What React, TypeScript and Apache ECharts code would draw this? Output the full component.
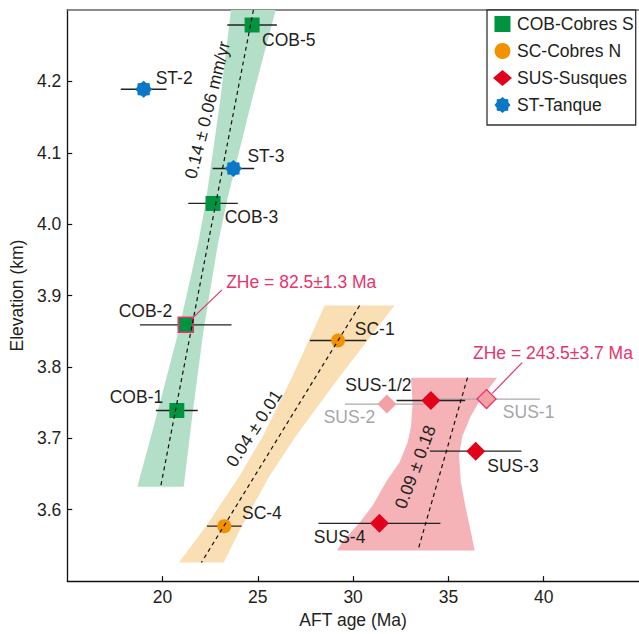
import React, { useEffect, useRef } from 'react';
import * as echarts from 'echarts';

// ---------- data ----------
const cobNames = ['COB-1', 'COB-2', 'COB-3', 'COB-5'];
const cobAge = [20.75, 21.22, 22.65, 24.7];
const cobAgeErr = [1.1, 2.4, 1.3, 1.3];
const cobElev = [3.739, 3.859, 4.029, 4.279];

const scNames = ['SC-1', 'SC-4'];
const scAge = [29.21, 23.24];
const scAgeErr = [1.48, 0.91];
const scElev = [3.837, 3.577];

const susNames = ['SUS-1/2', 'SUS-3', 'SUS-4'];
const susAge = [34.08, 36.43, 31.38];
const susAgeErr = [1.8, 2.4, 3.2];
const susElev = [3.753, 3.682, 3.581];

const susOldNames = ['SUS-2', 'SUS-1'];
const susOldAge = [31.77, 37.0];
const susOldAgeErr = [2.2, 2.8];
const susOldElev = [3.748, 3.755];

const stNames = ['ST-2', 'ST-3'];
const stAge = [19.01, 23.72];
const stAgeErr = [1.2, 1.09];
const stElev = [4.189, 4.078];

// confidence bands (AFT age, elevation) edges
const greenBandLeft = [[23.59, 4.3], [23.03, 4.174], [22.29, 4.035], [21.87, 3.973], [20.85, 3.851], [19.68, 3.731], [18.68, 3.632]];
const greenBandRight = [[25.94, 4.3], [24.69, 4.174], [23.4, 4.035], [22.91, 3.973], [22.15, 3.851], [21.56, 3.731], [21.11, 3.632]];
const orangeBandLeft = [[28.51, 3.886], [26.8, 3.786], [25.26, 3.703], [24.06, 3.648], [22.28, 3.577], [20.86, 3.526]];
const orangeBandRight = [[32.17, 3.886], [29.28, 3.786], [26.99, 3.703], [25.63, 3.648], [24.16, 3.577], [23.21, 3.526]];
const redBandLeft = [[33.04, 3.785], [33.12, 3.749], [33.04, 3.717], [32.86, 3.694], [32.43, 3.666], [31.73, 3.639], [31.03, 3.606], [30.25, 3.579], [29.47, 3.556], [29.16, 3.543]];
const redBandRight = [[37.56, 3.785], [36.78, 3.759], [36.17, 3.731], [35.73, 3.703], [35.56, 3.676], [35.65, 3.639], [35.91, 3.602], [36.17, 3.57], [36.38, 3.543]];

// regression lines
const greenFit = [[24.77, 4.3], [19.9, 3.632]];
const orangeFit = [[30.34, 3.886], [22.04, 3.526]];
const redFit = [[36.0, 3.785], [33.4, 3.543]];

// rate annotations
const rateTexts = ['0.14 ± 0.06 mm/yr', '0.04 ± 0.01', '0.09 ± 0.18'];
const ratePos = [[22.35, 4.16], [24.8, 3.714], [33.26, 3.66]];
const rateAngle = [76, 57, 69.5];

// ZHe annotations
const zheTexts = ['ZHe = 82.5±1.3 Ma', 'ZHe = 243.5±3.7 Ma'];
const zhePos = [[23.34, 3.919], [36.29, 3.82]];
const zheLeader1 = [[21.6, 3.869], [23.12, 3.908]];
const zheLeader2 = [[37.3, 3.763], [38.87, 3.806]];

const xTicksMin = 15, xTicksMax = 45, xStep = 5;
const yTicksMin = 3.5, yTicksMax = 4.3, yStep = 0.1;

// ---------- styles ----------
const FONT = "'Liberation Sans', Arial, Helvetica, sans-serif";
const FS = 17.5;
const TXT = '#231f20';
const PINK = '#e8336b';
const STAR = 'path://M100 50 L86.96 65.31 L85.36 85.36 L65.31 86.96 L50 100 L34.69 86.96 L14.64 85.36 L13.04 65.31 L0 50 L13.04 34.69 L14.64 14.64 L34.69 13.04 L50 0 L65.31 13.04 L85.36 14.64 L86.96 34.69 Z';
const SQUARE = 'path://M0 0H10V10H0Z';

// label placement: [align, dx, dy]
const labelPlace: Record<string, [string, number, number]> = {
  'COB-5': ['left', 10, 15],
  'COB-3': ['left', 11.6, 13.4],
  'COB-2': ['right', -13.6, -14],
  'COB-1': ['right', -13.6, -13.3],
  'ST-2': ['left', 12, -11],
  'ST-3': ['left', 14, -12.6],
  'SC-1': ['left', 16.7, -11.6],
  'SC-4': ['left', 17.7, -13.3],
  'SUS-1/2': ['right', -19.4, -15],
  'SUS-3': ['left', 11.6, 15],
  'SUS-4': ['right', -14, 13.4],
  'SUS-2': ['right', -11.6, 13.3],
  'SUS-1': ['left', 16.3, 12.7],
};

function bandSeries(left: number[][], right: number[][], color: string) {
  const poly = left.concat(right.slice().reverse());
  return {
    type: 'custom',
    silent: true,
    data: [[left[0][0], left[0][1]]],
    encode: { x: 0, y: 1 },
    renderItem: (_p: any, api: any) => ({
      type: 'polygon',
      shape: { points: poly.map((pt) => api.coord(pt)) },
      style: { fill: color },
    }),
  };
}

function errSeries(ages: number[], errs: number[], elev: number[], color: string) {
  return {
    type: 'custom',
    silent: true,
    data: ages.map((a, i) => [a, elev[i], errs[i]]),
    encode: { x: 0, y: 1 },
    renderItem: (_p: any, api: any) => {
      const x = api.value(0), y = api.value(1), e = api.value(2);
      const p1 = api.coord([x - e, y]);
      const p2 = api.coord([x + e, y]);
      return {
        type: 'line',
        shape: { x1: p1[0], y1: p1[1], x2: p2[0], y2: p2[1] },
        style: { stroke: color, lineWidth: 1.3 },
      };
    },
  };
}

function lineSeries(pts: number[][], color: string, dashed: boolean) {
  return {
    type: 'line',
    silent: true,
    symbol: 'none',
    data: pts,
    lineStyle: { color, width: 1.2, opacity: 1, type: dashed ? [4, 3.5] : 'solid' },
  };
}

function pointData(names: string[], ages: number[], elev: number[], color: string, extra?: (n: string) => any) {
  return names.map((n, i) => {
    const [align, dx, dy] = labelPlace[n];
    const item: any = {
      name: n,
      value: [ages[i], elev[i]],
      label: { align, offset: [dx, dy], color },
    };
    if (extra) Object.assign(item, extra(n));
    return item;
  });
}

const baseLabel = {
  show: true,
  formatter: '{b}',
  position: 'inside',
  verticalAlign: 'middle',
  fontSize: FS,
  fontFamily: FONT,
};

export default function App() {
  const ref = useRef<HTMLDivElement>(null);
  useEffect(() => {
    if (!ref.current) return;
    const chart = echarts.init(ref.current, undefined, { renderer: 'svg' });
    const option: any = {
      animation: false,
      textStyle: { fontFamily: FONT },
      grid: { left: 65.5, top: 10, width: 574, height: 577, containLabel: false },
      xAxis: [
        {
          type: 'value', min: xTicksMin, max: xTicksMax, interval: xStep,
          name: 'AFT age (Ma)', nameLocation: 'middle', nameGap: 25,
          nameTextStyle: { fontSize: FS, color: TXT, fontFamily: FONT },
          axisLine: { lineStyle: { color: '#111', width: 1.3 } },
          axisTick: { inside: true, length: 5, lineStyle: { color: '#111', width: 1.2 } },
          axisLabel: { showMinLabel: false, showMaxLabel: false, fontSize: FS, color: TXT, margin: 7, fontFamily: FONT },
          splitLine: { show: false },
        },
        {
          type: 'value', min: xTicksMin, max: xTicksMax, position: 'top',
          axisLine: { show: true, lineStyle: { color: '#666', width: 1.5 } },
          axisTick: { show: false }, axisLabel: { show: false }, splitLine: { show: false },
        },
      ],
      yAxis: {
        type: 'value', min: yTicksMin, max: yTicksMax, interval: yStep,
        name: 'Elevation (km)', nameLocation: 'middle', nameGap: 40,
        nameTextStyle: { fontSize: FS, color: TXT, fontFamily: FONT },
        axisLine: { show: true, lineStyle: { color: '#111', width: 1.3 } },
        axisTick: { inside: true, length: 5, lineStyle: { color: '#111', width: 1.2 } },
        axisLabel: {
          showMinLabel: false, showMaxLabel: false, fontSize: FS, color: TXT, margin: 6, fontFamily: FONT,
          formatter: (v: number) => v.toFixed(1),
        },
        splitLine: { show: false },
      },
      legend: {
        data: [
          { name: 'COB-Cobres S', icon: SQUARE },
          { name: 'SC-Cobres N', icon: 'circle' },
          { name: 'SUS-Susques', icon: 'diamond' },
          { name: 'ST-Tanque', icon: STAR },
        ],
        orient: 'vertical', left: 487, top: 10,
        itemWidth: 19, itemHeight: 16, itemGap: 9,
        padding: [5, 2, 11, 6],
        borderColor: '#333', borderWidth: 1.3, backgroundColor: '#fff',
        selectedMode: false,
        textStyle: { fontSize: FS, color: TXT, fontFamily: FONT, lineHeight: 16 },
      },
      series: [
        bandSeries(greenBandLeft, greenBandRight, '#b3dfc8'),
        bandSeries(orangeBandLeft, orangeBandRight, '#fadfb4'),
        bandSeries(redBandLeft, redBandRight, '#f5b3b7'),
        lineSeries(greenFit, '#111', true),
        lineSeries(orangeFit, '#111', true),
        lineSeries(redFit, '#111', true),
        lineSeries(zheLeader1, PINK, false),
        lineSeries(zheLeader2, PINK, false),
        errSeries(susOldAge, susOldAgeErr, susOldElev, '#aaaaaa'),
        errSeries(cobAge, cobAgeErr, cobElev, '#222'),
        errSeries(scAge, scAgeErr, scElev, '#222'),
        errSeries(susAge, susAgeErr, susElev, '#222'),
        errSeries(stAge, stAgeErr, stElev, '#222'),
        {
          name: 'SUS-old', type: 'scatter', symbol: 'diamond', symbolSize: 19,
          itemStyle: { color: '#f3a1a6', opacity: 1 },
          label: baseLabel,
          data: pointData(susOldNames, susOldAge, susOldElev, '#a6a6a6', (n) =>
            n === 'SUS-1' ? { itemStyle: { borderColor: PINK, borderWidth: 1.3, opacity: 1 } } : {}),
        },
        {
          name: 'COB-Cobres S', type: 'scatter', symbol: SQUARE, symbolSize: 15,
          itemStyle: { color: '#009440', opacity: 1 },
          label: baseLabel,
          data: pointData(cobNames, cobAge, cobElev, TXT, (n) =>
            n === 'COB-2' ? { itemStyle: { borderColor: PINK, borderWidth: 1.6, opacity: 1 } } : {}),
        },
        {
          name: 'SC-Cobres N', type: 'scatter', symbol: 'circle', symbolSize: 14,
          itemStyle: { color: '#f39200', opacity: 1 },
          label: baseLabel,
          data: pointData(scNames, scAge, scElev, TXT),
        },
        {
          name: 'SUS-Susques', type: 'scatter', symbol: 'diamond', symbolSize: 19,
          itemStyle: { color: '#e2001a', opacity: 1 },
          label: baseLabel,
          data: pointData(susNames, susAge, susElev, TXT),
        },
        {
          name: 'ST-Tanque', type: 'scatter', symbol: STAR, symbolSize: 17,
          itemStyle: { color: '#0a77c7', opacity: 1 },
          label: baseLabel,
          data: pointData(stNames, stAge, stElev, TXT),
        },
        {
          type: 'scatter', symbolSize: 0, silent: true,
          itemStyle: { opacity: 1 },
          data: rateTexts.map((t, i) => ({
            name: t, value: ratePos[i],
            label: { rotate: rateAngle[i] },
          })),
          label: { ...baseLabel, align: 'center', color: TXT },
        },
        {
          type: 'scatter', symbolSize: 0, silent: true,
          itemStyle: { opacity: 1 },
          data: zheTexts.map((t, i) => ({ name: t, value: zhePos[i] })),
          label: { ...baseLabel, align: 'left', color: PINK },
        },
      ],
    };
    chart.setOption(option);
    return () => chart.dispose();
  }, []);
  return (
    <div
      ref={ref}
      style={{ position: 'fixed', left: 0, top: 0, width: 639, height: 634, background: '#fff' }}
    />
  );
}
